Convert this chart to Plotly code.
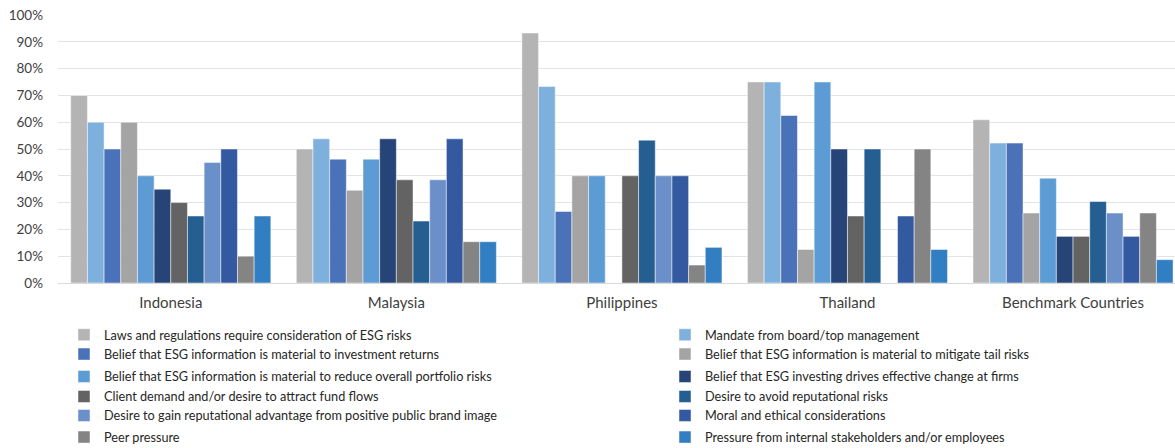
import plotly.graph_objects as go

categories = ["Indonesia", "Malaysia", "Philippines", "Thailand", "Benchmark Countries"]

series_names = [
    "Laws and regulations require consideration of ESG risks",
    "Mandate from board/top management",
    "Belief that ESG information is material to investment returns",
    "Belief that ESG information is material to mitigate tail risks",
    "Belief that ESG information is material to reduce overall portfolio risks",
    "Belief that ESG investing drives effective change at firms",
    "Client demand and/or desire to attract fund flows",
    "Desire to avoid reputational risks",
    "Desire to gain reputational advantage from positive public brand image",
    "Moral and ethical considerations",
    "Peer pressure",
    "Pressure from internal stakeholders and/or employees",
]

laws = [0.70, 0.500, 0.933, 0.750, 0.609]
mandate = [0.60, 0.538, 0.733, 0.750, 0.522]
returns = [0.50, 0.462, 0.267, 0.625, 0.522]
tail = [0.60, 0.346, 0.400, 0.125, 0.261]
portfolio = [0.40, 0.462, 0.400, 0.750, 0.391]
change = [0.35, 0.538, None, 0.500, 0.174]
client = [0.30, 0.385, 0.400, 0.250, 0.174]
avoid_rep = [0.25, 0.231, 0.533, 0.500, 0.304]
brand = [0.45, 0.385, 0.400, None, 0.261]
moral = [0.50, 0.538, 0.400, 0.250, 0.174]
peer = [0.10, 0.154, 0.067, 0.500, 0.261]
internal = [0.25, 0.154, 0.133, 0.125, 0.087]

series_values = [laws, mandate, returns, tail, portfolio, change,
                 client, avoid_rep, brand, moral, peer, internal]

colors = ["#B4B4B4", "#7EB0DE", "#4A72B8", "#A4A4A4", "#5D9BD4", "#264478",
          "#636363", "#255E91", "#6A8FC9", "#335AA1", "#848484", "#327EC2"]

tick_vals = [i / 10 for i in range(11)]
tick_text = [f"{i * 10}%" for i in range(11)]

font_family = "Lato, 'Open Sans', sans-serif"
text_color = "#404040"

W, H = 1175, 448
legend_rows = [335, 354.3, 376.7, 396.7, 415.7, 437.3]
legend_cols = [64, 665]

fig = go.Figure()
legend_layouts = {}
for i, (name, vals, col) in enumerate(zip(series_names, series_values, colors)):
    key = "legend" if i == 0 else f"legend{i + 1}"
    fig.add_trace(go.Bar(
        name=name,
        x=categories,
        y=vals,
        marker=dict(color=col, line=dict(color="rgba(255,255,255,0.8)", width=0.6)),
        legend=key,
        showlegend=True,
    ))
    row, colx = legend_rows[i // 2], legend_cols[i % 2]
    legend_layouts[key] = dict(
        visible=True,
        orientation="v",
        xref="container", yref="container",
        x=colx / W, y=1 - row / H,
        xanchor="left", yanchor="middle",
        font=dict(size=12.7, color="#262626"),
        itemwidth=30,
        bgcolor="rgba(0,0,0,0)",
    )

fig.update_layout(
    width=W,
    height=H,
    showlegend=True,
    barmode="group",
    bargap=0.113,
    bargroupgap=0,
    plot_bgcolor="white",
    paper_bgcolor="white",
    margin=dict(l=58, r=0, t=15, b=165, autoexpand=False),
    font=dict(family=font_family, size=14, color=text_color),
    xaxis=dict(
        range=[-0.5, 4.452],
        showgrid=False,
        showline=True,
        linecolor="#D9D9D9",
        linewidth=1,
        ticks="",
        tickangle=0,
        tickfont=dict(size=15, color=text_color),
        ticklabelstandoff=6,
    ),
    yaxis=dict(
        range=[0, 1],
        tickvals=tick_vals,
        ticktext=tick_text,
        showgrid=True,
        gridcolor="#E3E3E3",
        gridwidth=1,
        zeroline=False,
        showline=False,
        ticks="",
        tickfont=dict(size=13.5, color=text_color),
        ticklabelstandoff=14,
    ),
    **legend_layouts,
)

fig.write_html("out.html", config={"displayModeBar": False},
               post_script="document.body.style.margin='0px';")
